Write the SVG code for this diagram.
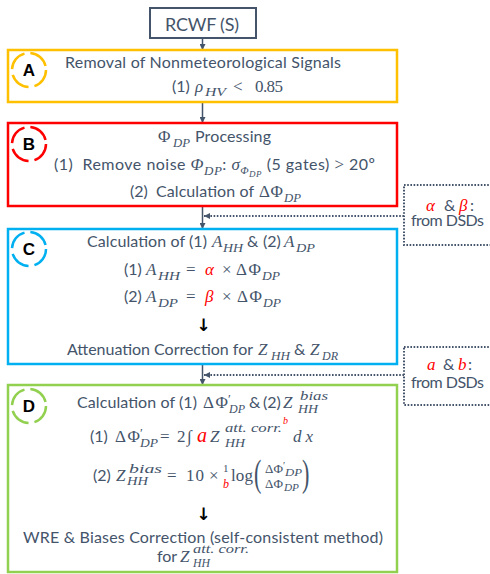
<svg xmlns="http://www.w3.org/2000/svg" width="490" height="574" viewBox="0 0 490 574">
<style>
.t{font-family:Lato,"Open Sans","Liberation Sans",sans-serif;font-size:16px;fill:#44546A}
.m{font-family:"Liberation Serif","DejaVu Serif",serif;font-style:italic;font-size:17px;fill:#44546A}
.u{font-family:"Liberation Serif","DejaVu Serif",serif;font-size:17px;fill:#44546A}
.s{font-size:13px}
.r{fill:#FF0000}
.box{fill:#FFFFFF;stroke-width:2.5}
.dash{fill:none;stroke-width:2.5;stroke-dasharray:21 6}
.lbl{font-family:"Liberation Sans",Arial,sans-serif;font-weight:bold;font-size:17px;fill:#000;text-anchor:middle}
.dot{fill:none;stroke:#44546A;stroke-width:2;stroke-dasharray:1.6 1.6}
.arr{font-family:"DejaVu Sans",sans-serif;font-weight:bold;font-size:17px;fill:#000;text-anchor:middle}
</style>
<defs>
<marker id="ah" viewBox="0 0 6 6" refX="6" refY="3" markerWidth="6" markerHeight="6" markerUnits="userSpaceOnUse" orient="auto">
<path d="M0,0 L6,3 L0,6 z" fill="#44546A"/>
</marker>
</defs>
<rect width="490" height="574" fill="#FFFFFF"/>

<g id="connectors">
<line x1="202.5" y1="38" x2="202.5" y2="50" stroke="#44546A" stroke-width="1.5" marker-end="url(#ah)"/>
<line x1="202.5" y1="102" x2="202.5" y2="123" stroke="#44546A" stroke-width="1.5" marker-end="url(#ah)"/>
<line x1="202.5" y1="206" x2="202.5" y2="229" stroke="#44546A" stroke-width="1.5" marker-end="url(#ah)"/>
<line x1="202.5" y1="364" x2="202.5" y2="385" stroke="#44546A" stroke-width="1.5" marker-end="url(#ah)"/>
<line x1="404" y1="216" x2="204" y2="216" class="dot" marker-end="url(#ah)"/>
<line x1="404" y1="375" x2="204" y2="375" class="dot" marker-end="url(#ah)"/>
</g>

<g id="rcwf">
<rect x="150" y="8" width="106" height="30" fill="#FFFFFF" stroke="#44546A" stroke-width="2"/>
<text class="t" x="165" y="31" style="font-size:18px" textLength="74">RCWF (S)</text>
</g>

<g id="nodeA">
<rect class="box" x="8" y="50" width="389" height="52" stroke="#FFC000"/>
<circle class="dash" cx="29" cy="70" r="17" stroke="#FFC000"/>
<text class="lbl" x="29" y="76">A</text>
<text class="t" x="65" y="68" textLength="276">Removal of Nonmeteorological Signals</text>
<text class="t" x="172" y="92">(1)</text>
<text class="m" x="195" y="92">ρ</text>
<text class="m s" x="205" y="96" textLength="21" lengthAdjust="spacingAndGlyphs">HV</text>
<text class="u" x="233" y="92">&lt;</text>
<text class="u" x="255" y="92" textLength="28">0.85</text>
</g>

<g id="nodeB">
<rect class="box" x="8" y="123" width="389" height="83" stroke="#FF0000"/>
<circle class="dash" cx="29" cy="144" r="17" stroke="#FF0000"/>
<text class="lbl" x="29" y="150">B</text>
<text class="u" x="158" y="142">Φ</text>
<text class="m s" x="173" y="147" textLength="17" lengthAdjust="spacingAndGlyphs">DP</text>
<text class="t" x="195" y="142" textLength="76">Processing</text>
<text class="t" x="54" y="170" textLength="321" lengthAdjust="spacing">(1)&#160; Remove noise <tspan class="m">Φ</tspan><tspan class="m s" dy="5">DP</tspan><tspan dy="-5">: </tspan><tspan class="m">σ</tspan><tspan class="m" style="font-size:11px" dy="4">Φ</tspan><tspan class="m" style="font-size:9px" dy="3">DP</tspan><tspan dy="-7"> (5 gates) </tspan><tspan class="u">&gt;</tspan> 20º</text>
<text class="t" x="130" y="197">(2)</text>
<text class="t" x="156" y="197" textLength="98">Calculation of</text>
<text class="u" x="259" y="197" textLength="24">ΔΦ</text>
<text class="m s" x="284" y="202" textLength="17" lengthAdjust="spacingAndGlyphs">DP</text>
</g>

<g id="dsd1">
<rect class="dot" x="404" y="185" width="100" height="60"/>
<text class="m r" x="426" y="211">α</text>
<text class="t" x="444" y="211">&amp;</text>
<text class="m r" x="459" y="211">β</text>
<text class="t" x="470" y="211">:</text>
<text class="t" x="411" y="226" textLength="73">from DSDs</text>
</g>

<g id="nodeC">
<rect class="box" x="8" y="229" width="389" height="135" stroke="#00B0F0"/>
<circle class="dash" cx="29" cy="249" r="17" stroke="#00B0F0"/>
<text class="lbl" x="29" y="255">C</text>
<text class="t" x="87" y="247" textLength="120">Calculation of (1)</text>
<text class="m" x="212" y="247">A</text>
<text class="m s" x="223" y="252" textLength="20" lengthAdjust="spacingAndGlyphs">HH</text>
<text class="t" x="247" y="247">&amp;</text>
<text class="t" x="263" y="247">(2)</text>
<text class="m" x="284" y="247">A</text>
<text class="m s" x="296" y="252" textLength="19" lengthAdjust="spacingAndGlyphs">DP</text>
<text class="t" x="124" y="275">(1)</text>
<text class="m" x="146" y="275">A</text>
<text class="m s" x="158" y="280" textLength="22" lengthAdjust="spacingAndGlyphs">HH</text>
<text class="u" x="186" y="275">=</text>
<text class="m r" x="205" y="275">α</text>
<text class="u" x="222" y="275">×</text>
<text class="u" x="236" y="275" textLength="25">ΔΦ</text>
<text class="m s" x="262" y="280" textLength="18" lengthAdjust="spacingAndGlyphs">DP</text>
<text class="t" x="124" y="302">(2)</text>
<text class="m" x="146" y="302">A</text>
<text class="m s" x="158" y="307" textLength="20" lengthAdjust="spacingAndGlyphs">DP</text>
<text class="u" x="186" y="302">=</text>
<text class="m r" x="205" y="302">β</text>
<text class="u" x="222" y="302">×</text>
<text class="u" x="237" y="302" textLength="25">ΔΦ</text>
<text class="m s" x="263" y="307" textLength="18" lengthAdjust="spacingAndGlyphs">DP</text>
<text class="arr" x="203.5" y="331">↓</text>
<text class="t" x="67" y="355" textLength="186">Attenuation Correction for</text>
<text class="m" x="258" y="355">Z</text>
<text class="m s" x="271" y="360" textLength="19" lengthAdjust="spacingAndGlyphs">HH</text>
<text class="t" x="294" y="355">&amp;</text>
<text class="m" x="310" y="355">Z</text>
<text class="m s" x="322" y="360" textLength="16" lengthAdjust="spacingAndGlyphs">DR</text>
</g>

<g id="dsd2">
<rect class="dot" x="404" y="347" width="100" height="58"/>
<text class="m r" x="427" y="370">a</text>
<text class="t" x="443" y="370">&amp;</text>
<text class="m r" x="458" y="370">b</text>
<text class="t" x="468" y="370">:</text>
<text class="t" x="411" y="388" textLength="73">from DSDs</text>
</g>

<g id="nodeD">
<rect class="box" x="8" y="385" width="389" height="187" stroke="#92D050"/>
<circle class="dash" cx="29" cy="406" r="17" stroke="#92D050"/>
<text class="lbl" x="29" y="412">D</text>
<text class="t" x="77" y="408" textLength="120">Calculation of (1)</text>
<text class="u" x="203" y="408" textLength="25">ΔΦ</text>
<text class="u" x="228" y="403" style="font-size:13px">′</text>
<text class="m s" x="229" y="413" textLength="16" lengthAdjust="spacingAndGlyphs">DP</text>
<text class="t" x="249" y="408">&amp;</text>
<text class="t" x="263" y="408">(2)</text>
<text class="m" x="283" y="408">Z</text>
<text class="m s" x="300" y="400" textLength="28" lengthAdjust="spacingAndGlyphs">bias</text>
<text class="m s" x="298" y="413" textLength="20" lengthAdjust="spacingAndGlyphs">HH</text>

<text class="t" x="90" y="442">(1)</text>
<text class="u" x="115" y="442" textLength="25">ΔΦ</text>
<text class="u" x="140" y="437" style="font-size:13px">′</text>
<text class="m s" x="140" y="447" textLength="18" lengthAdjust="spacingAndGlyphs">DP</text>
<text class="u" x="160" y="442">=</text>
<text class="u" x="177" y="442">2</text>
<text class="u" x="187" y="442">∫</text>
<text class="m r" x="197" y="442" style="font-size:20px">a</text>
<text class="m" x="210" y="442">Z</text>
<text class="m" x="225" y="432" style="font-size:12px" textLength="57" lengthAdjust="spacingAndGlyphs">att. corr.</text>
<text class="m r" x="283" y="424" style="font-size:10px">b</text>
<text class="m s" x="225" y="447" textLength="20" lengthAdjust="spacingAndGlyphs">HH</text>
<text class="m" x="293" y="442" textLength="20">dx</text>

<text class="t" x="93" y="481">(2)</text>
<text class="m" x="116" y="481">Z</text>
<text class="m s" x="129" y="473" textLength="33" lengthAdjust="spacingAndGlyphs">bias</text>
<text class="m s" x="127" y="485" textLength="21" lengthAdjust="spacingAndGlyphs">HH</text>
<text class="u" x="167" y="481">=</text>
<text class="u" x="186" y="481" textLength="18">10</text>
<text class="u" x="209" y="481">×</text>
<text class="u" x="223" y="472" style="font-size:11px">1</text>
<text class="m r" x="223" y="488" style="font-size:12px">b</text>
<text class="u" x="231" y="481" textLength="22">log</text>
<text class="u" x="254" y="486" style="font-size:37px" transform="translate(254 0) scale(0.6 1) translate(-254 0)">(</text>
<text class="u" x="265" y="473" style="font-size:13px" textLength="18">ΔΦ</text>
<text class="u" x="283" y="469" style="font-size:10px">′</text>
<text class="m" x="285" y="476" style="font-size:10px" textLength="17" lengthAdjust="spacingAndGlyphs">DP</text>
<text class="u" x="265" y="488" style="font-size:13px" textLength="18">ΔΦ</text>
<text class="m" x="284" y="491" style="font-size:10px" textLength="15" lengthAdjust="spacingAndGlyphs">DP</text>
<text class="u" x="302" y="486" style="font-size:37px" transform="translate(302 0) scale(0.6 1) translate(-302 0)">)</text>

<text class="arr" x="203.5" y="520">↓</text>
<text class="t" x="23" y="543" textLength="360">WRE &amp; Biases Correction (self-consistent method)</text>
<text class="t" x="157" y="562" textLength="20">for</text>
<text class="m" x="180" y="562">Z</text>
<text class="m" x="193" y="553" style="font-size:12px" textLength="56" lengthAdjust="spacingAndGlyphs">att. corr.</text>
<text class="m s" x="193" y="567" textLength="17" lengthAdjust="spacingAndGlyphs">HH</text>
</g>
</svg>
